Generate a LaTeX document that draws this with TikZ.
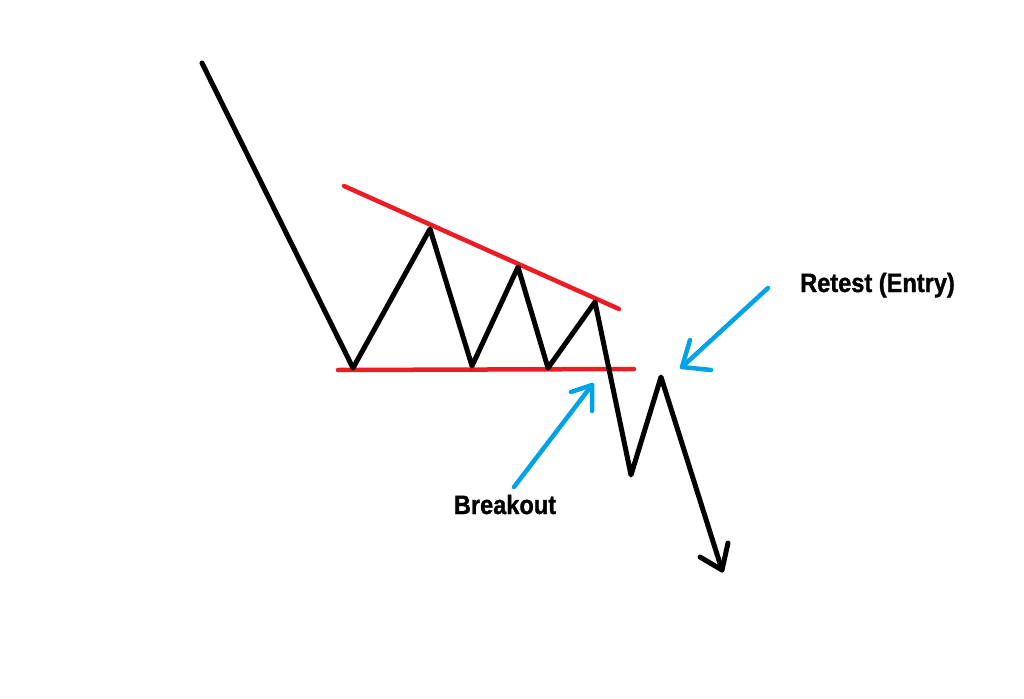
\documentclass[tikz,border=0pt]{standalone}
\usepackage{fontspec}
\newfontfamily\labelfont[FakeStretch=0.89, BoldFeatures={FakeBold=1.2}]{Liberation Sans}
\definecolor{paintred}{RGB}{237,28,36}
\definecolor{paintblue}{RGB}{0,162,232}
\tikzset{
  price/.style={line width=5pt, black, line cap=round, line join=round},
  trendline/.style={line width=4.5pt, paintred, line cap=round},
  pointer/.style={line width=4.5pt, paintblue, line cap=round, line join=round},
  lbl/.style={font=\labelfont\bfseries\fontsize{26.5}{30}\selectfont, inner sep=0pt}
}
\begin{document}
\begin{tikzpicture}[x=1pt,y=-1pt]
\fill[white] (0,0) rectangle (1024,698);
\useasboundingbox (0,0) rectangle (1024,698);
% price path points
\coordinate (p0) at (202,63);
\coordinate (p1) at (353,368);
\coordinate (p2) at (430,229);
\coordinate (p3) at (472,366);
\coordinate (p4) at (518,267);
\coordinate (p5) at (548,368);
\coordinate (p6) at (595,302);
\coordinate (p7) at (631,475);
\coordinate (p8) at (661,377);
\coordinate (p9) at (722,570);
\coordinate (h1) at (700,557);
\coordinate (h2) at (728,543);
% trend lines
\coordinate (r1) at (344,186);
\coordinate (r2) at (619,309);
\coordinate (s1) at (338,370);
\coordinate (s2) at (634,369);
\draw[trendline] (r1) -- (r2);
\draw[trendline] (s1) -- (s2);
\draw[price] (p0) -- (p1) -- (p2) -- (p3) -- (p4) -- (p5) -- (p6) -- (p7) -- (p8) -- (p9);
\draw[price] (h1) -- (p9) -- (h2);
% breakout pointer
\coordinate (b0) at (514,487);
\coordinate (b1) at (592,385);
\coordinate (ba) at (571,392);
\coordinate (bb) at (592,411);
\draw[pointer] (b0) -- (b1);
\draw[pointer] (ba) -- (b1) -- (bb);
% retest pointer
\coordinate (t0) at (768,288);
\coordinate (t1) at (682,367);
\coordinate (ta) at (690,340);
\coordinate (tb) at (711,370);
\draw[pointer] (t0) -- (t1);
\draw[pointer] (ta) -- (t1) -- (tb);
% labels
\node[lbl, anchor=base] (breakout) at (505,514) {Breakout};
\node[lbl, anchor=base west] (retest) at (800,292) {Retest (Entry)};
\end{tikzpicture}
\end{document}
